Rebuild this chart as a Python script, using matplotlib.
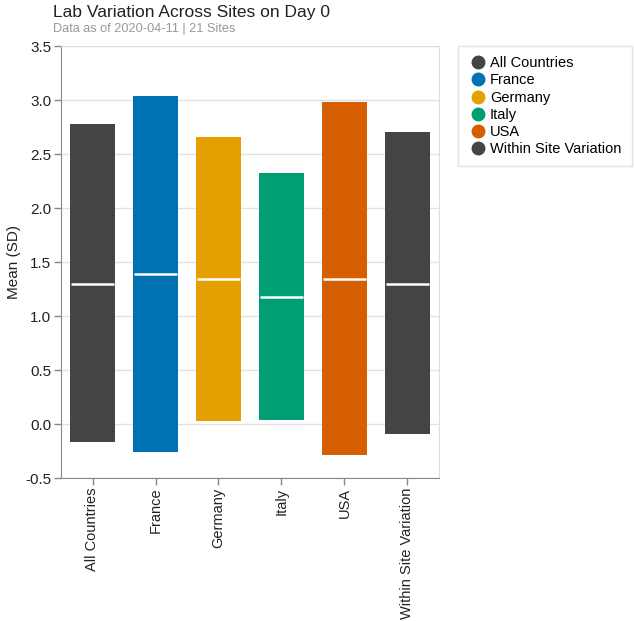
import matplotlib.pyplot as plt
from matplotlib.lines import Line2D


CATEGORIES = ["All Countries", "France", "Germany", "Italy", "USA", "Within Site Variation"]
LOWER = [-0.17, -0.26, 0.03, 0.04, -0.29, -0.095]
UPPER = [2.78, 3.04, 2.66, 2.32, 2.98, 2.70]
MEANS = [1.30, 1.39, 1.345, 1.18, 1.34, 1.30]
COLORS = ["#444444", "#0072B2", "#E69F00", "#009E73", "#D55E00", "#444444"]
Y_TICKS = [-0.5, 0.0, 0.5, 1.0, 1.5, 2.0, 2.5, 3.0, 3.5]

TITLE = "Lab Variation Across Sites on Day 0"
SUBTITLE = "Data as of 2020-04-11 | 21 Sites"

W, H = 634, 621

plt.rcParams["font.family"] = ["Liberation Sans", "DejaVu Sans"]


def main():
    fig = plt.figure(figsize=(W / 100, H / 100), dpi=100)
    ax = fig.add_axes([61 / W, (H - 478) / H, (439 - 61) / W, (478 - 46) / H])

    x = list(range(len(CATEGORIES)))
    heights = [u - l for u, l in zip(UPPER, LOWER)]
    ax.bar(x, heights, bottom=LOWER, width=0.7, color=COLORS, zorder=2)

    for i, m in enumerate(MEANS):
        ax.plot([i - 0.34, i + 0.34], [m, m], color="white", linewidth=1.8,
                solid_capstyle="butt", zorder=3)

    ax.set_xlim(-0.5, len(CATEGORIES) - 0.5)
    ax.set_ylim(-0.5, 3.5)
    ax.set_yticks(Y_TICKS)
    ax.set_yticklabels([f"{v:.1f}" for v in Y_TICKS], fontsize=11, color="#222222")
    ax.set_xticks(x)
    ax.set_xticklabels(CATEGORIES, rotation=90, fontsize=10.5, color="#222222")
    ax.set_ylabel("Mean (SD)", fontsize=11, color="#222222", labelpad=3)

    ax.grid(axis="y", color="#e2e2e2", linewidth=1, zorder=0)
    ax.set_axisbelow(True)
    for side in ["top", "right"]:
        ax.spines[side].set_color("#dddddd")
    for side in ["left", "bottom"]:
        ax.spines[side].set_color("#888888")
    ax.tick_params(axis="both", colors="#888888", length=5, width=1,
                   labelcolor="#222222", pad=2)

    handles = [
        Line2D([0], [0], marker="o", linestyle="", markersize=9,
               markerfacecolor=c, markeredgecolor=c)
        for c in COLORS
    ]
    leg = fig.legend(handles, CATEGORIES, loc="upper left",
                     bbox_to_anchor=(458 / W, 1 - 46 / H), borderaxespad=0,
                     frameon=True, fancybox=False, fontsize=10.5,
                     handletextpad=0.1, labelspacing=0.22, borderpad=0.7,
                     handlelength=1.4)
    leg.get_frame().set_edgecolor("#dddddd")
    leg.get_frame().set_linewidth(1)

    fig.text(53 / W, 1 - 17 / H, TITLE, fontsize=12.5, color="#222222", va="baseline")
    fig.text(53 / W, 1 - 32 / H, SUBTITLE, fontsize=9.2, color="#999999", va="baseline")

    fig.savefig("out.png", dpi=100)
    plt.close(fig)


if __name__ == "__main__":
    main()
